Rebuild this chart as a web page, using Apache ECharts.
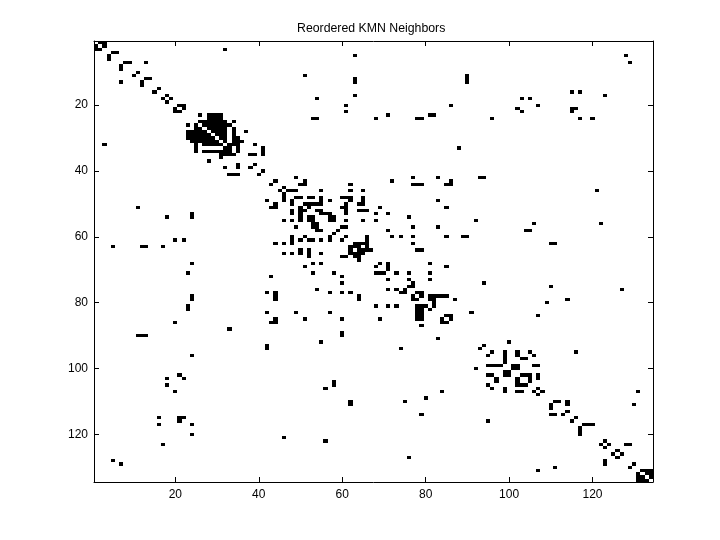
<!DOCTYPE html>
<html><head><meta charset="utf-8">
<style>html,body{margin:0;padding:0;background:#fff}#c{width:720px;height:540px}</style>
<script src="https://cdn.jsdelivr.net/npm/echarts@6/dist/echarts.min.js"></script>
</head><body><div id="c"></div>
<script>
const chartTitle = "Reordered KMN Neighbors";
const matrixSize = 134;
const tickValues = [20,40,60,80,100,120];
const rowsA = [1,2,3,4,5,6,7,8,9,10,11,12,13,14,15,16,17,18,19,20,21,22];
const neighborsA = [[2,3],[1,3],[1,2,32],[5,6],[4,63,128],[4],[8,9,13,129],[7],[7],[11],[10,51,90],[13,14,63,90],[7,12,63,90],[12],[16],[15,115,117],[18,63,123],[17,19,54,103,105],[18],[21,22,61,86,107],[20,22,102,115,116],[20,21,61,103,115]];
const rowsB = [23,24,25,26,27,28,29,30,31,32,33,34,35,36,37,38,39,40,41];
const neighborsB = [[26,28,29,30,31,71,81,82],[28,29,30,31,53,54,68,78,79,96,117,120],[26,27,28,29,30,31,32,34],[23,25,27,28,29,30,31,32,33],[25,26,28,29,30,31,32,34],[23,24,25,26,27,29,30,31,32,34,37],[23,24,25,26,27,28,30,31,32,34],[23,24,25,26,27,28,29,31,32,34,35],[24,25,26,27,28,29,30,32,34,35,36],[3,25,27,28,29,30,31,33,34,35,39],[25,32,33,35,41,88],[25,27,28,29,30,31,32,33,35,41],[31,32,33,34,38,39,41],[31],[28],[35,39],[32,35,38],[41],[33,34,35,40]];
const rowsC = [42,43,44,45,46,47,48,49,50,51,52,53,54,55,56,57,58,59,60,61,62,63,64,65,66,67];
const neighborsC = [[49,77,83,93,94],[44,51,72,86],[43,50,51,62,77,78,79,85,86],[46],[45,47,48,49,55,62,65,121],[46],[46,49,50,52,53,55,60,61,62,65],[42,46,48,55,57,62,65,83],[44,48,51,52,53,54,55,61,64,65],[11,43,44,50,52,60,61,69,85],[48,50,51,54,55,61,64,65,66],[24,48,50,55,56,57,61,68,71],[18,24,50,52,53,57,58,76],[46,48,50,52,53,57,58,61,65,68,92],[53,54,106,122],[49,53,54,60,61,77,83],[54,55,59,71,104,105],[58],[48,51,57,61,66,72,74,77,85,89,90],[20,22,48,50,52,53,55,57,60,66],[44,46,48,63,64,65,66,77,110,111],[5,12,13,17,62,63,64,66],[50,52,62,64,65,66,67,78,79],[46,48,50,52,55,62,63,64,65],[52,60,61,63,64],[64]];
const rowsD = [68,69,70,71,72,73,74,75,76,77,78,79,80,81,82,83,84,85,86,87,88,89,90,91,92,93,94];
const neighborsD = [[24,53,55,69,71,81],[51,68,71,85],[71],[23,53,58,68,69,70,73,76,81],[43,60],[71,76,81],[60,77,94],[76,77,110],[54,71,73,75,127],[42,44,57,60,62,74,75,78,79],[24,44,64,77,79,81,82,83,84,85],[24,44,64,77,78,81,82,87,114],[82,109],[23,68,71,73,78,79,80,82],[23,78,79,81],[42,49,57,78,79,91],[78,79,85,86,107],[44,51,60,69,78,79,84,86],[20,43,44,84,85],[79],[33],[60],[11,12,13,60],[83],[55,100],[42,94],[42,74,93]];
const rowsE = [95,96,97,98,99,100,101,102,103,104,105,106,107,108,109,110,111,112,113,114];
const neighborsE = [[96,99,102,105,116],[24,95,99,102,106],[99,103,104],[99],[95,96,97,98,101,102,106,107],[92,101,102],[99,100],[21,95,96,99,100,103,104,105,107],[18,22,97,102,105,107],[58,97,102,105],[18,58,95,102,103,104],[56,96,99,107],[20,84,99,102,103,106,108,131],[107],[80],[62,75,111,112,114],[62,110,114,130],[110],[114],[79,110,111,113]];
const rowsF = [115,116,117,118,119,120,121,122,123,124,125,126,127,128,129,130,131,132,133,134];
const neighborsF = [[16,21,22,116],[21,95,115],[16,24,118,119,120],[117],[117],[24,117],[46],[56,123],[17,122,124,128,129],[123],[126],[125,127],[76,126],[5,123],[7,123,130],[111,129],[107,132,133,134],[131,133,134],[131,132,134],[131,132,133]];

const cells = [];
[[rowsA,neighborsA],[rowsB,neighborsB],[rowsC,neighborsC],[rowsD,neighborsD],[rowsE,neighborsE],[rowsF,neighborsF]].forEach(([rs,ns])=>{
  rs.forEach((r,i)=>ns[i].forEach(c=>cells.push([c-1,r-1])));
});
const categories = Array.from({length:matrixSize},(_,i)=>String(i+1));
const isTick = i => tickValues.includes(i+1);
const font = {color:'#000',fontFamily:'"Liberation Sans",Arial,sans-serif',fontSize:12};
const axisBase = {
  type:'category',data:categories,boundaryGap:true,
  axisLine:{show:true,onZero:false,lineStyle:{color:'#000',width:1}},
  axisTick:{show:true,inside:true,length:5,alignWithLabel:true,interval:(i)=>isTick(i),lineStyle:{color:'#000',width:1}},
  splitLine:{show:false}
};
const labelOn = {show:true,interval:(i)=>isTick(i),...font};
const chart = echarts.init(document.getElementById('c'),null,{renderer:'canvas'});
chart.setOption({
  animation:false,backgroundColor:'#fff',
  title:{text:chartTitle,left:292,top:18,textStyle:{...font,fontSize:12.3,fontWeight:'normal'}},
  grid:{left:94,right:67,top:41,bottom:58,containLabel:false},
  xAxis:[
    {...axisBase,position:'bottom',axisLabel:{...labelOn,margin:7}},
    {...axisBase,position:'top',axisLabel:{show:false}}
  ],
  yAxis:[
    {...axisBase,position:'left',inverse:true,axisLabel:{...labelOn,margin:6}},
    {...axisBase,position:'right',inverse:true,axisLabel:{show:false}}
  ],
  series:[{
    type:'custom',xAxisIndex:0,yAxisIndex:0,data:cells,encode:{x:0,y:1},clip:true,
    renderItem:(params,api)=>{
      const p = api.coord([api.value(0),api.value(1)]);
      const s = api.size([1,1]);
      const x0 = Math.round(p[0]-s[0]/2), x1 = Math.round(p[0]+s[0]/2);
      const y0 = Math.round(p[1]-s[1]/2), y1 = Math.round(p[1]+s[1]/2);
      return {type:'rect',shape:{x:x0,y:y0,width:x1-x0,height:y1-y0},style:{fill:'#000',stroke:null}};
    }
  }]
});
</script></body></html>
